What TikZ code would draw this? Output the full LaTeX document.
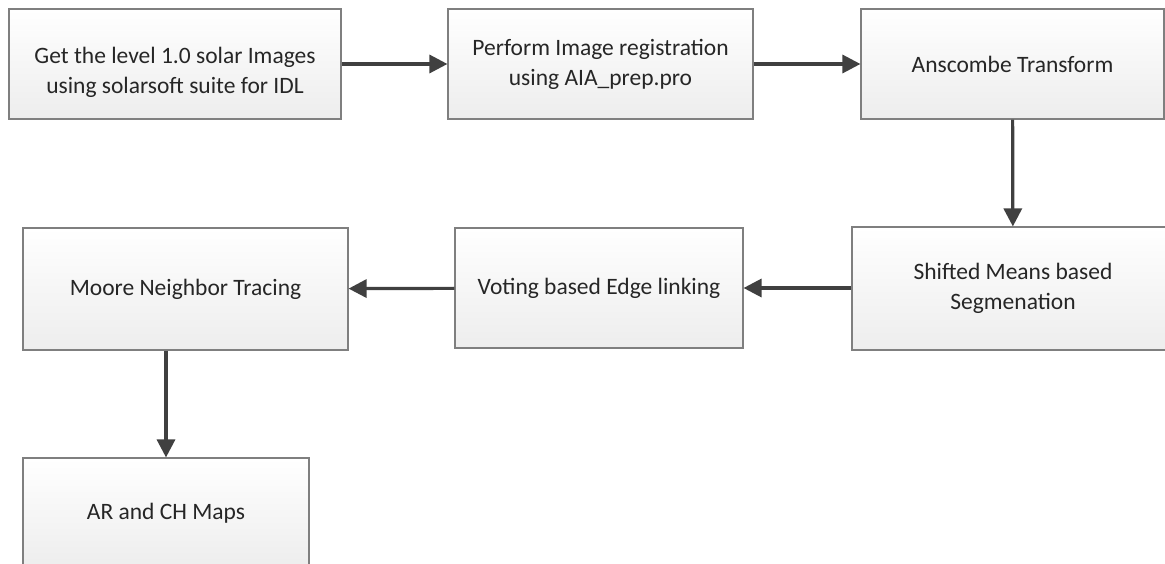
\documentclass[tikz,border=0pt]{standalone}
\usepackage{fontspec}
\setmainfont{Carlito}
\usetikzlibrary{arrows.meta}
\definecolor{boxline}{HTML}{7F7F7F}
\definecolor{boxfill}{HTML}{EDEDED}
\definecolor{flowgrey}{HTML}{404040}
\tikzset{
  stage/.style={draw=boxline, line width=1.1pt, top color=white, bottom color=boxfill,
    align=center, inner sep=0pt, minimum height=110pt, text=black!85,
    font=\fontsize{23.5}{30}\selectfont},
  flow/.style={draw=flowgrey, line width=3.2pt, -{Triangle[length=18pt,width=18pt]}}
}
\begin{document}
\begin{tikzpicture}[x=1pt, y=-1pt]
      \useasboundingbox (0, 0) rectangle (1165, 564);
      \clip (0, 0) rectangle (1165, 564);
      %% top row
      \node[stage, minimum width=332pt] (get) at (175, 64)
        {\raisebox{-15pt}[0pt][0pt]{\begin{tabular}[c]{@{}c@{}}Get the level 1.0 solar Images\\using solarsoft suite for IDL\end{tabular}}};
      \node[stage, minimum width=305pt] (reg) at (600.5, 64)
        {Perform Image registration\\using AIA\_prep.pro};
      \node[stage, minimum width=303pt] (ans) at (1012.5, 64) {Anscombe Transform};

      %% middle row
      \node[stage, minimum width=322pt, minimum height=123pt] (seg) at (1013, 288.5)
        {Shifted Means based\\Segmenation};
      \node[stage, minimum width=288pt, minimum height=120pt] (vote) at (599, 288)
        {Voting based Edge linking};
      \node[stage, minimum width=325pt, minimum height=122pt] (moore) at (185.5, 289)
        {Moore Neighbor Tracing};

      %% bottom
      \node[stage, minimum width=286pt] (maps) at (166, 513) {AR and CH Maps};

      \draw[flow] (get) -- (reg);
      \draw[flow] (reg) -- (ans);
      \draw[flow] (ans) -- (seg);
      \draw[flow] (seg.west |- vote) -- (vote);
      \draw[flow] (vote) -- (moore);
      \draw[flow] (moore.south -| maps.north) -- (maps.north);
    \end{tikzpicture}
\end{document}
